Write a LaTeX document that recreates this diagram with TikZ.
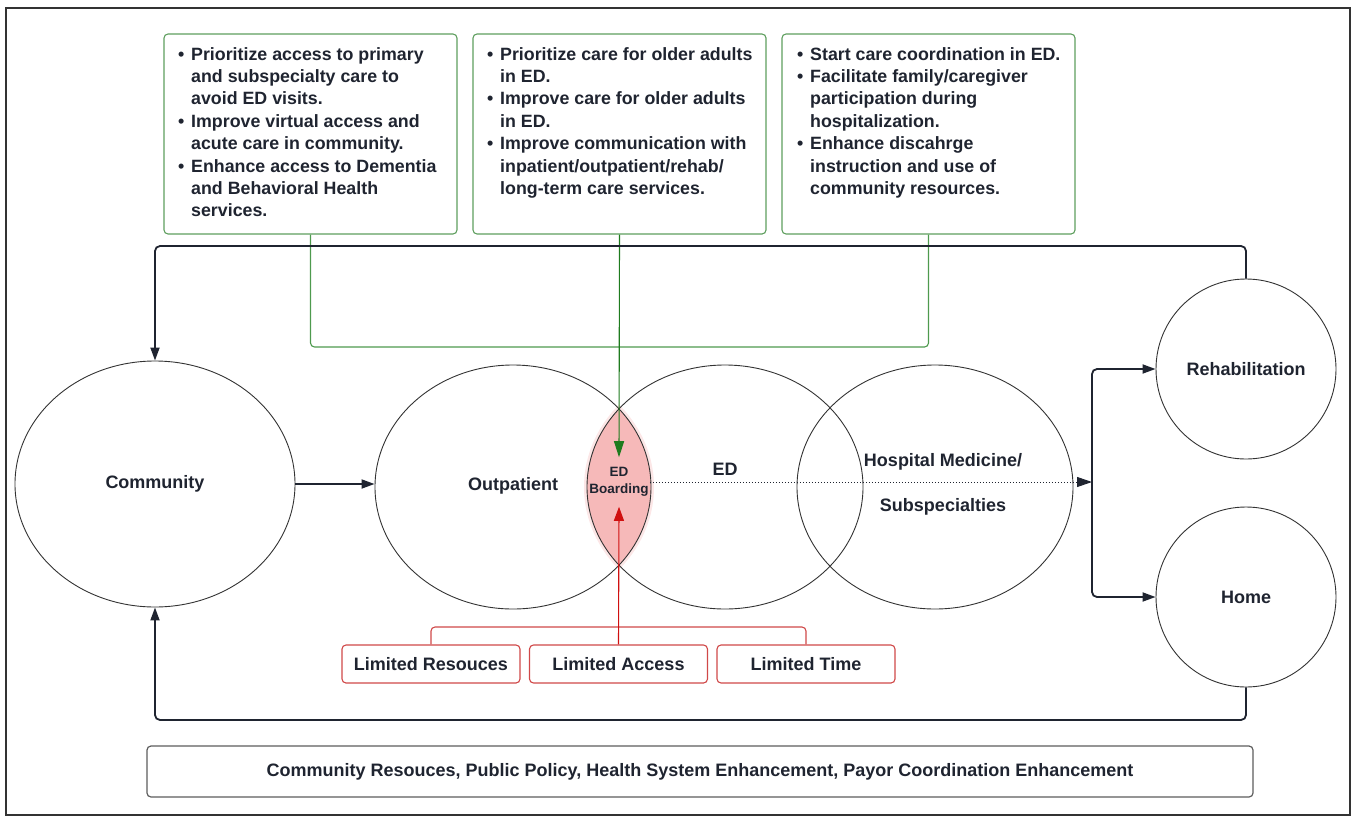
\documentclass[tikz,border=0pt]{standalone}
\usepackage{fontspec}
\setmainfont{Liberation Sans}
\usetikzlibrary{arrows.meta,shapes.geometric,calc}
\definecolor{gbox}{HTML}{5E9E5E}
\definecolor{gln}{HTML}{4E9A4E}
\definecolor{garrow}{HTML}{1E7B1E}
\definecolor{rbox}{HTML}{D04848}
\definecolor{rarrow}{HTML}{D01010}
\definecolor{lensfill}{HTML}{F6B9B9}
\definecolor{ink}{HTML}{1F2430}
\definecolor{frame}{HTML}{333333}
\newcommand{\bl}{\makebox[13pt][l]{•}}
\newcommand{\ind}{\hspace*{13pt}}
\begin{document}
\begin{tikzpicture}[x=1pt,y=-1pt,
  gboxst/.style={draw=gbox, line width=1.1pt, rounded corners=4pt, minimum width=293pt, minimum height=200pt, inner sep=0pt},
  bultxt/.style={anchor=north west, inner sep=0pt, align=left, font=\fontsize{17.8}{22.4}\selectfont\bfseries, text=ink},
  rboxst/.style={draw=rbox, line width=1.1pt, rounded corners=4pt, minimum width=178pt, minimum height=38pt, inner sep=0pt, font=\fontsize{18}{22}\selectfont\bfseries, text=ink},
  ell/.style={draw=frame, line width=0.9pt, ellipse, inner sep=0pt, font=\fontsize{18}{22}\selectfont\bfseries, text=ink},
  lab/.style={inner sep=0pt, font=\fontsize{18}{22}\selectfont\bfseries, text=ink},
  conn/.style={draw=ink, line width=1.8pt, rounded corners=5pt, -{Triangle[length=13pt,width=9pt]}},
  gconn/.style={draw=gln, line width=1.1pt, rounded corners=4pt},
  rconn/.style={draw=rbox, line width=1.1pt, rounded corners=4pt},
]
\useasboundingbox (0,0) rectangle (1357,817);
\draw[frame, line width=2pt] (6,8) rectangle (1350,815);

% lens fill
\begin{scope}
  \clip (513,487) ellipse [x radius=141pt, y radius=125pt];
  \fill[lensfill, opacity=0.35] (725,487) ellipse [x radius=141pt, y radius=125pt];
\end{scope}
\begin{scope}
  \clip (513,487) ellipse [x radius=138pt, y radius=122pt];
  \fill[lensfill] (725,487) ellipse [x radius=138pt, y radius=122pt];
\end{scope}

% ellipses
\node[ell, minimum width=280pt, minimum height=246pt] (comm) at (155,484) {Community};
\node[ell, minimum width=276pt, minimum height=244pt] (outp) at (513,487) {};
\node[ell, minimum width=276pt, minimum height=244pt] (ed) at (725,487) {};
\node[ell, minimum width=276pt, minimum height=244pt] (hosp) at (935,487) {};
\node[ell, circle, minimum size=180pt] (rehab) at (1246,369) {Rehabilitation};
\node[ell, circle, minimum size=180pt] (home) at (1246,597) {Home};

\node[lab] (outplab) at (513,486) {Outpatient};
\node[lab] (edlab) at (725,469) {ED};
\node[lab, align=center, font=\fontsize{18}{45}\selectfont\bfseries] (hosplab) at (943,484) {Hospital Medicine/\\Subspecialties};
\node[inner xsep=1pt, inner ysep=10pt, align=center, font=\fontsize{13.5}{17}\selectfont\bfseries, text=ink] (edb) at (619,482) {ED\\Boarding};

% green boxes
\node[gboxst] (b1) at (310.5,134) {};
\node[gboxst] (b2) at (619.5,134) {};
\node[gboxst] (b3) at (928.5,134) {};
\node[bultxt] (t1) at (178,47) {\bl Prioritize access to primary\\\ind and subspecialty care to\\\ind avoid ED visits.\\\bl Improve virtual access and\\\ind acute care in community.\\\bl Enhance access to Dementia\\\ind and Behavioral Health\\\ind services.};
\node[bultxt] (t2) at (487,47) {\bl Prioritize care for older adults\\\ind in ED.\\\bl Improve care for older adults\\\ind in ED.\\\bl Improve communication with\\\ind inpatient/outpatient/rehab/\\\ind long-term care services.};
\node[bultxt] (t3) at (797,47) {\bl Start care coordination in ED.\\\bl Facilitate family/caregiver\\\ind participation during\\\ind hospitalization.\\\bl Enhance discahrge\\\ind instruction and use of\\\ind community resources.};

% green connectors
\coordinate (gj) at (619.5,347);
\draw[gconn] (b1.south) |- (gj);
\draw[gconn] (b3.south) |- (gj);
\draw[draw=garrow, line width=1.1pt, -{Triangle[length=16pt,width=10pt]}] (b2.south) -- (edb.north);

% red boxes
\node[rboxst] (r1) at (431,664) {Limited Resouces};
\node[rboxst] (r2) at (618.5,664) {Limited Access};
\node[rboxst] (r3) at (806,664) {Limited Time};
\coordinate (rj) at (618.5,627);
\draw[rconn] (r1.north) |- (rj);
\draw[rconn] (r3.north) |- (rj);
\draw[draw=rarrow, line width=1.1pt, -{Triangle[length=14pt,width=10pt]}] (r2.north) -- (edb.south);

% main flow
\draw[conn] (comm.east) -- (comm.east -| outp.west);
\coordinate (br) at (1092,482);
\draw[draw=ink, line width=1pt, dotted, -{Triangle[length=15pt,width=10pt]}] (edb.east) -- (br);
\draw[conn] (br) |- (rehab.west);
\draw[conn] (br) |- (home.west);

% loops
\coordinate (tl) at (155,246);
\coordinate (bl) at (155,720);
\draw[conn] (rehab.north) |- (tl) -- (comm.north);
\draw[conn] (home.south) |- (bl) -- (comm.south);

% bottom box
\node[draw=frame!80, line width=1.2pt, rounded corners=4pt, minimum width=1106pt, minimum height=51pt, inner sep=0pt, font=\fontsize{18}{22}\selectfont\bfseries, text=ink] (policy) at (700,771.5) {Community Resouces, Public Policy, Health System Enhancement, Payor Coordination Enhancement};
\end{tikzpicture}
\end{document}
